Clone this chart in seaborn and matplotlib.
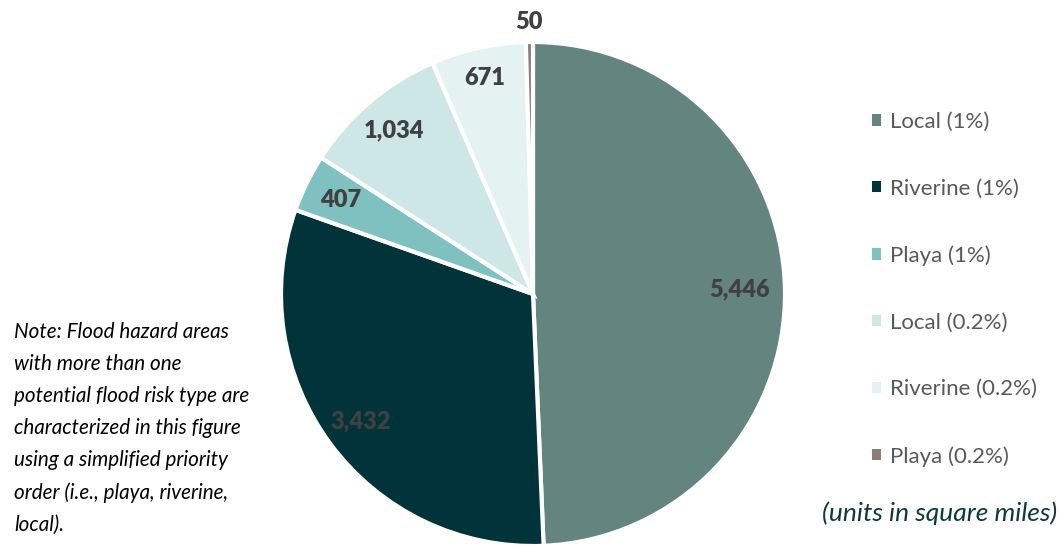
import numpy as np
import matplotlib
matplotlib.use("Agg")
import matplotlib.pyplot as plt
import seaborn as sns

# Flood hazard area by type (square miles)
categories = ["Local (1%)", "Riverine (1%)", "Playa (1%)",
              "Local (0.2%)", "Riverine (0.2%)", "Playa (0.2%)"]
areas = [5446, 3432, 407, 1034, 671, 50]
colors = ["#64847f", "#00333a", "#7fc1c1", "#cde6e6", "#e4f2f2", "#8c7e76"]
label_radius = [0.82, 0.85, 0.85, 0.85, 0.88, 1.08]

sns.set_theme(style="white")
plt.rcParams["font.family"] = ["Lato", "DejaVu Sans"]

W, H, DPI = 1059, 546, 100
fig = plt.figure(figsize=(W / DPI, H / DPI), dpi=DPI)

cx, cy, r = 533, 294, 252
ax = fig.add_axes([(cx - r) / W, (H - cy - r) / H, 2 * r / W, 2 * r / H])

wedges, _ = ax.pie(areas, colors=colors, startangle=90, counterclock=False,
                   radius=1.0,
                   wedgeprops=dict(edgecolor="white", linewidth=3))
ax.set_xlim(-1, 1)
ax.set_ylim(-1, 1)
ax.set_aspect("equal")
ax.axis("off")

# Value labels placed along each wedge's mid-angle
for w, val, rr in zip(wedges, areas, label_radius):
    mid = np.deg2rad((w.theta1 + w.theta2) / 2)
    ax.text(rr * np.cos(mid), rr * np.sin(mid), f"{val:,}",
            ha="center", va="center", fontsize=17, fontweight="heavy",
            color="#404040")

leg = fig.legend(wedges, categories, loc="upper left",
                 bbox_to_anchor=(852 / W, 1 - 92 / H),
                 frameon=False, fontsize=16, labelcolor="#595959",
                 handlelength=0.42, handleheight=0.42, handletextpad=0.4,
                 labelspacing=2.1)
for h in leg.legend_handles:
    h.set_edgecolor("none")

note = ("Note: Flood hazard areas\nwith more than one\n"
        "potential flood risk type are\ncharacterized in this figure\n"
        "using a simplified priority\norder (i.e., playa, riverine,\nlocal).")
fig.text(14 / W, 1 - 322 / H, note, ha="left", va="top", fontsize=14.9,
         style="italic", color="#000000", linespacing=1.75)

fig.text(1057 / W, 1 - 513 / H, "(units in square miles)", ha="right",
         va="center", fontsize=19, style="italic", color="#0b3b3d")

fig.savefig("out.png", dpi=DPI, facecolor="white")
